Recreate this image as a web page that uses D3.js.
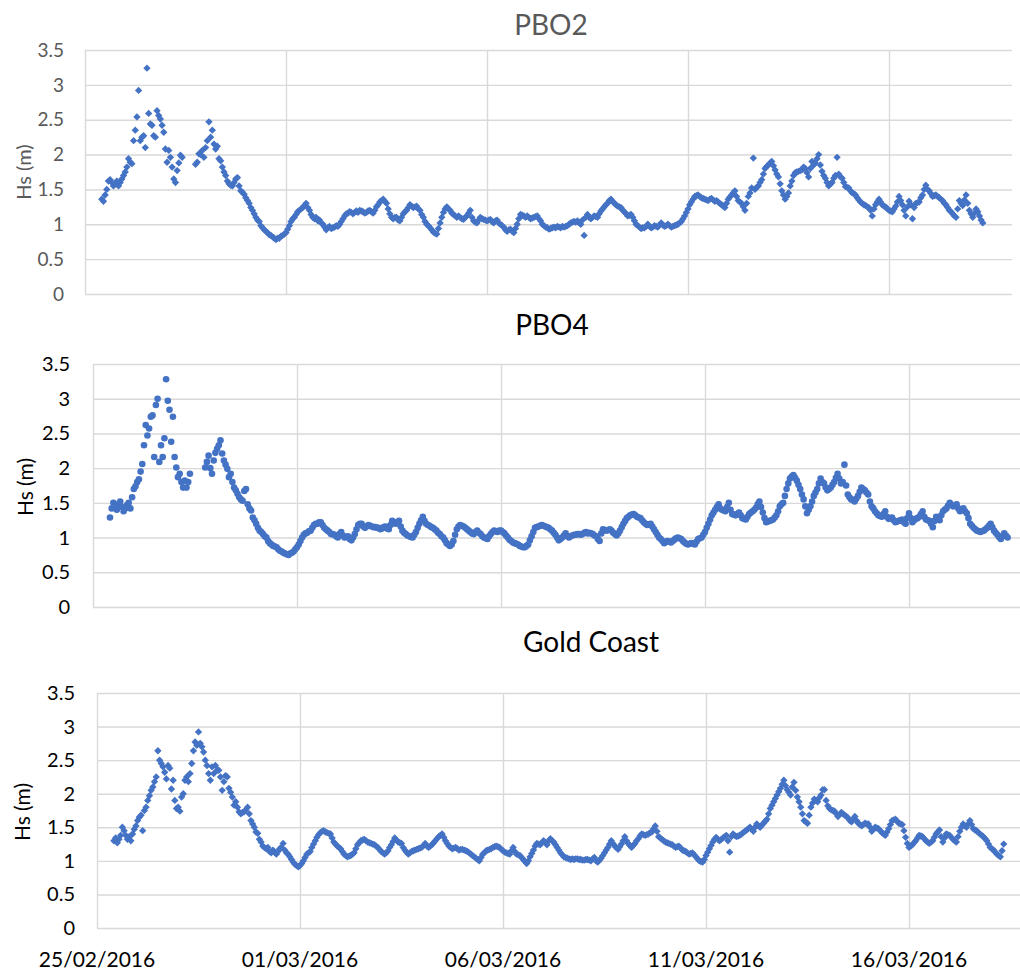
<!DOCTYPE html>
<html>
<head>
<meta charset="utf-8">
<script src="https://cdn.jsdelivr.net/npm/d3@7/dist/d3.min.js"></script>
<style>
  html, body { margin: 0; padding: 0; background: #fff; }
  svg { display: block; font-family: Lato, "Open Sans", sans-serif; }
</style>
</head>
<body>
<svg id="chart" width="1020" height="971"></svg>
<script>
// ---- DATA (significant wave height, m; hourly from 25/02/2016 10:00; null = missing) ----
const startTime = "2016-02-25T10:00:00Z";
const stepHours = 1;
const yTicks = [0, 0.5, 1, 1.5, 2, 2.5, 3, 3.5];
const yTickLabels = ["0", "0.5", "1", "1.5", "2", "2.5", "3", "3.5"];
const xTickDates = ["2016-02-25", "2016-03-01", "2016-03-06", "2016-03-11", "2016-03-16"];
const xTickLabels = ["25/02/2016", "01/03/2016", "06/03/2016", "11/03/2016", "16/03/2016"];
const titles = ["PBO2", "PBO4", "Gold Coast"];
const yLabel = "Hs (m)";

const pbo2 = [
  1.36, 1.33, 1.42, 1.5, 1.62, 1.64, 1.6, 1.55, 1.58, 1.62, 1.55, 1.6, 1.65, 1.7,
  1.75, 1.82, 1.94, 1.89, 1.87, 2.2, 2.35, 2.54, 2.92, 2.2, 2.25, 2.27, 2.1, 3.24, 2.59, 2.44, 2.42, 2.27, 2.25, 2.63, 2.56, 2.51, 2.42, 2.32,
  2.08, 1.89, 2.06, 1.96, 1.82, 1.65, 1.6, 1.77, 1.88, 1.99, 1.96, null, null, null, null, null, null, null, 1.86, 1.89, 2.01, 2.0, 2.06, 1.96,
  2.1, 2.2, 2.47, 2.25, 2.35, 2.15, 2.08, 2.12, 1.94, 1.91, 1.82, 1.75, 1.7, 1.62, 1.58, 1.56, 1.55, 1.6, 1.65, 1.67, 1.55, 1.48, 1.46, 1.43,
  1.38, 1.34, 1.3, 1.24, 1.2, 1.15, 1.1, 1.06, 1.04, 0.98, 0.95, 0.92, 0.9, 0.88, 0.85, 0.84, 0.82, 0.8, 0.78, 0.8, 0.8, 0.83, 0.84, 0.86,
  0.88, 0.93, 0.98, 1.04, 1.08, 1.1, 1.14, 1.18, 1.2, 1.22, 1.24, 1.27, 1.3, 1.24, 1.2, 1.14, 1.1, 1.08, 1.1, 1.05, 1.06, 1.02, 1.0, 0.96,
  0.92, 0.95, 0.97, 0.94, 0.95, 0.96, 0.98, 0.97, 1.0, 1.04, 1.08, 1.12, 1.15, 1.16, 1.18, 1.17, 1.15, 1.17, 1.19, 1.17, 1.2, 1.19, 1.18, 1.16,
  1.17, 1.19, 1.2, 1.18, 1.16, 1.2, 1.25, 1.28, 1.32, 1.34, 1.36, 1.33, 1.3, 1.22, 1.15, 1.1, 1.08, 1.1, 1.1, 1.06, 1.05, 1.1, 1.15, 1.18,
  1.2, 1.24, 1.28, 1.26, 1.24, 1.25, 1.26, 1.22, 1.2, 1.14, 1.1, 1.04, 1.0, 0.98, 0.95, 0.92, 0.89, 0.87, 0.86, 0.94, 1.02, 1.1, 1.17, 1.22,
  1.25, 1.22, 1.2, 1.16, 1.14, 1.12, 1.1, 1.12, 1.1, 1.08, 1.07, 1.1, 1.12, 1.16, 1.2, 1.1, 1.05, 1.03, 1.02, 1.06, 1.1, 1.08, 1.07, 1.06,
  1.05, 1.06, 1.07, 1.04, 1.02, 1.05, 1.06, 1.02, 1.0, 0.98, 0.96, 0.92, 0.9, 0.92, 0.93, 0.9, 0.88, 0.94, 1.0, 1.08, 1.14, 1.13, 1.12, 1.1,
  1.12, 1.1, 1.08, 1.09, 1.1, 1.11, 1.12, 1.08, 1.05, 1.0, 0.98, 0.96, 0.95, 0.93, 0.94, 0.95, 0.96, 0.95, 0.97, 0.96, 0.95, 0.97, 0.96, 0.97,
  0.98, 1.0, 1.02, 1.03, 1.04, 1.03, 1.05, 1.02, 1.0, 1.06, 0.84, 1.1, 1.14, 1.1, 1.08, 1.1, 1.12, 1.11, 1.1, 1.15, 1.19, 1.22, 1.25, 1.28,
  1.3, 1.34, 1.36, 1.33, 1.3, 1.28, 1.26, 1.25, 1.24, 1.2, 1.18, 1.15, 1.12, 1.13, 1.14, 1.1, 1.05, 1.0, 0.98, 0.96, 0.94, 0.95, 0.95, 0.97,
  1.0, 0.97, 0.95, 0.96, 0.98, 0.97, 0.96, 0.99, 1.02, 0.99, 0.97, 0.98, 1.0, 0.98, 0.96, 0.97, 0.98, 0.99, 1.0, 1.02, 1.04, 1.08, 1.12, 1.17,
  1.22, 1.28, 1.32, 1.36, 1.4, 1.41, 1.42, 1.4, 1.38, 1.37, 1.36, 1.35, 1.34, 1.36, 1.37, 1.35, 1.33, 1.34, 1.32, 1.3, 1.28, 1.26, 1.24, 1.3,
  1.36, 1.39, 1.42, 1.45, 1.48, 1.4, 1.34, 1.32, 1.3, 1.25, 1.2, 1.3, 1.4, 1.45, 1.52, 1.95, 1.5, 1.53, 1.55, 1.6, 1.64, 1.72, 1.8, 1.83,
  1.85, 1.88, 1.9, 1.84, 1.78, 1.72, 1.68, 1.58, 1.48, 1.42, 1.36, 1.4, 1.45, 1.55, 1.62, 1.7, 1.74, 1.75, 1.76, 1.77, 1.78, 1.82, 1.8, 1.74,
  1.68, 1.8, 1.9, 1.85, 1.88, 1.94, 2.0, 1.85, 1.76, 1.7, 1.66, 1.6, 1.55, 1.58, 1.6, 1.66, 1.7, 1.96, 1.72, 1.68, 1.66, 1.6, 1.54, 1.53,
  1.52, 1.48, 1.45, 1.44, 1.42, 1.38, 1.35, 1.32, 1.3, 1.28, 1.27, 1.25, 1.24, 1.2, 1.12, 1.22, 1.28, 1.32, 1.36, 1.32, 1.28, 1.26, 1.25, 1.22,
  1.2, 1.19, 1.18, 1.22, 1.26, 1.32, 1.4, 1.34, 1.28, 1.2, 1.12, 1.25, 1.33, 1.28, 1.08, 1.24, 1.3, 1.31, 1.32, 1.38, 1.42, 1.5, 1.56, 1.5,
  1.48, 1.44, 1.4, 1.41, 1.42, 1.4, 1.38, 1.36, 1.34, 1.3, 1.28, 1.24, 1.2, 1.18, 1.15, 1.12, 1.1, 1.22, 1.34, 1.3, 1.27, 1.35, 1.42, 1.3,
  1.2, 1.15, 1.1, 1.16, 1.22, 1.18, 1.12, 1.06, 1.02
];

const pbo4 = [
  1.29, 1.42, 1.5, 1.45, 1.4, 1.48, 1.52, 1.44, 1.38, 1.42, 1.47, 1.5, 1.42, 1.58,
  1.7, 1.74, 1.8, 1.84, 1.95, 2.06, 2.33, 2.62, 2.47, 2.57, 2.74, 2.76, 2.16, 2.91, 3.0, 2.09, 2.33, 2.16, 2.43, 3.28, 2.97, 2.84, 2.38, 2.74,
  2.16, 2.01, 1.87, 1.92, 1.8, 1.72, 1.82, 1.72, 1.8, 1.92, null, null, null, null, null, null, null, null, 2.01, 2.09, 2.18, 2.0, 1.92, 2.11,
  2.22, 2.28, 2.33, 2.4, 2.21, 2.11, 2.05, 1.99, 1.87, 1.92, 1.8, 1.72, 1.68, 1.63, 1.58, 1.55, 1.53, 1.67, 1.7, 1.48, 1.42, 1.39, 1.29, 1.25,
  1.2, 1.14, 1.1, 1.08, 1.05, 1.02, 1.0, 0.95, 0.92, 0.9, 0.88, 0.87, 0.86, 0.83, 0.81, 0.8, 0.78, 0.77, 0.76, 0.75, 0.77, 0.78, 0.8, 0.83,
  0.86, 0.9, 0.95, 1.0, 1.04, 1.06, 1.07, 1.09, 1.1, 1.14, 1.18, 1.2, 1.2, 1.22, 1.22, 1.18, 1.14, 1.12, 1.1, 1.08, 1.05, 1.05, 1.04, 1.02,
  1.0, 1.05, 1.08, 1.03, 1.0, 1.01, 1.02, 0.98, 0.96, 1.0, 1.05, 1.12, 1.18, 1.2, 1.2, 1.16, 1.14, 1.16, 1.18, 1.17, 1.16, 1.15, 1.15, 1.14,
  1.14, 1.12, 1.13, 1.15, 1.16, 1.13, 1.12, 1.18, 1.24, 1.22, 1.2, 1.22, 1.24, 1.16, 1.1, 1.07, 1.05, 1.03, 1.02, 1.01, 1.0, 1.04, 1.08, 1.14,
  1.2, 1.25, 1.3, 1.24, 1.2, 1.18, 1.17, 1.15, 1.14, 1.12, 1.1, 1.07, 1.05, 1.02, 1.0, 0.96, 0.92, 0.9, 0.88, 0.9, 0.95, 1.04, 1.12, 1.16,
  1.18, 1.17, 1.16, 1.14, 1.12, 1.1, 1.08, 1.06, 1.05, 1.08, 1.1, 1.07, 1.05, 1.02, 1.0, 0.99, 0.98, 1.02, 1.05, 1.08, 1.1, 1.09, 1.08, 1.1,
  1.1, 1.08, 1.06, 1.03, 1.0, 0.97, 0.95, 0.93, 0.92, 0.91, 0.9, 0.88, 0.87, 0.86, 0.86, 0.88, 0.9, 0.96, 1.02, 1.08, 1.14, 1.15, 1.16, 1.17,
  1.18, 1.17, 1.16, 1.15, 1.14, 1.12, 1.1, 1.07, 1.04, 1.0, 0.96, 0.98, 1.0, 1.03, 1.06, 1.02, 1.0, 1.02, 1.03, 1.04, 1.04, 1.05, 1.05, 1.04,
  1.05, 1.07, 1.08, 1.06, 1.07, 1.06, 1.05, 1.03, 1.02, 0.98, 0.95, 1.06, 1.12, 1.11, 1.1, 1.11, 1.12, 1.1, 1.07, 1.05, 1.03, 1.06, 1.1, 1.15,
  1.2, 1.24, 1.28, 1.3, 1.32, 1.33, 1.34, 1.32, 1.3, 1.29, 1.28, 1.25, 1.22, 1.2, 1.18, 1.19, 1.2, 1.16, 1.12, 1.08, 1.04, 1.0, 0.98, 0.95,
  0.92, 0.94, 0.95, 0.94, 0.93, 0.95, 0.97, 0.99, 1.0, 0.99, 0.98, 0.95, 0.93, 0.91, 0.9, 0.91, 0.92, 0.91, 0.9, 0.94, 0.98, 0.99, 1.0, 1.04,
  1.08, 1.14, 1.2, 1.26, 1.32, 1.36, 1.4, 1.44, 1.48, 1.42, 1.4, 1.39, 1.38, 1.44, 1.5, 1.4, 1.34, 1.33, 1.32, 1.34, 1.36, 1.32, 1.28, 1.27,
  1.26, 1.3, 1.34, 1.36, 1.38, 1.4, 1.43, 1.48, 1.52, 1.44, 1.36, 1.28, 1.22, 1.23, 1.24, 1.25, 1.26, 1.29, 1.32, 1.38, 1.45, 1.48, 1.5, 1.6,
  1.7, 1.78, 1.85, 1.88, 1.9, 1.86, 1.82, 1.76, 1.7, 1.62, 1.55, 1.45, 1.35, 1.4, 1.45, 1.52, 1.6, 1.65, 1.7, 1.78, 1.85, 1.8, 1.78, 1.72,
  1.68, 1.7, 1.72, 1.76, 1.8, 1.86, 1.92, 1.85, 1.78, 1.8, 2.05, 1.75, 1.62, 1.58, 1.55, 1.54, 1.52, 1.56, 1.6, 1.66, 1.72, 1.7, 1.68, 1.65,
  1.62, 1.52, 1.45, 1.42, 1.38, 1.35, 1.32, 1.31, 1.3, 1.34, 1.38, 1.3, 1.27, 1.28, 1.29, 1.25, 1.22, 1.23, 1.24, 1.25, 1.26, 1.22, 1.2, 1.28,
  1.35, 1.28, 1.22, 1.25, 1.27, 1.28, 1.3, 1.34, 1.38, 1.3, 1.26, 1.25, 1.24, 1.2, 1.15, 1.24, 1.3, 1.28, 1.25, 1.32, 1.38, 1.4, 1.42, 1.46,
  1.5, 1.47, 1.45, 1.46, 1.48, 1.42, 1.38, 1.4, 1.42, 1.38, 1.35, 1.28, 1.2, 1.17, 1.14, 1.12, 1.1, 1.09, 1.08, 1.09, 1.1, 1.12, 1.14, 1.17,
  1.2, 1.15, 1.1, 1.07, 1.04, 1.01, 0.98, 1.02, 1.06, 1.03, 1.0
];

const goldCoast = [
  1.3, 1.34, 1.27, 1.32, 1.38, 1.5, 1.45, 1.38, 1.32, 1.36, 1.3, 1.4, 1.47, 1.52,
  1.6, 1.65, 1.68, 1.45, 1.75, 1.8, 1.9, 1.97, 2.05, 2.1, 2.18, 2.25, 2.64, 2.5, 2.45, 2.4, 2.32, 2.22, 2.42, 2.38, 2.07, 2.2, 1.9, 1.78,
  1.8, 1.74, 1.95, 2.0, 2.2, 2.25, 2.18, 2.3, 2.45, 2.64, 2.77, 2.72, 2.92, 2.75, 2.7, 2.62, 2.5, 2.42, 2.3, 2.2, 2.4, 2.3, 2.42, 2.35,
  2.35, 2.25, 2.05, 2.18, 2.27, 2.25, 2.08, 2.02, 1.95, 1.83, 1.88, 1.8, 1.73, 1.7, 1.72, 1.73, 1.76, 1.8, 1.7, 1.6, 1.55, 1.5, 1.43, 1.41,
  1.32, 1.28, 1.22, 1.2, 1.18, 1.2, 1.14, 1.12, 1.16, 1.13, 1.1, 1.14, 1.18, 1.2, 1.26, 1.16, 1.12, 1.1, 1.06, 1.02, 0.98, 0.95, 0.93, 0.91,
  0.93, 0.96, 1.0, 1.05, 1.1, 1.12, 1.14, 1.2, 1.25, 1.3, 1.35, 1.39, 1.42, 1.44, 1.45, 1.43, 1.42, 1.41, 1.4, 1.34, 1.28, 1.25, 1.22, 1.2,
  1.18, 1.14, 1.1, 1.08, 1.06, 1.07, 1.08, 1.1, 1.12, 1.18, 1.24, 1.27, 1.3, 1.31, 1.32, 1.3, 1.28, 1.27, 1.26, 1.25, 1.24, 1.22, 1.2, 1.17,
  1.14, 1.12, 1.1, 1.12, 1.15, 1.2, 1.24, 1.29, 1.34, 1.31, 1.28, 1.27, 1.26, 1.2, 1.16, 1.13, 1.1, 1.12, 1.14, 1.15, 1.16, 1.17, 1.18, 1.19,
  1.2, 1.23, 1.26, 1.22, 1.2, 1.22, 1.24, 1.27, 1.3, 1.33, 1.36, 1.38, 1.4, 1.35, 1.3, 1.26, 1.22, 1.2, 1.18, 1.19, 1.2, 1.18, 1.16, 1.17,
  1.17, 1.16, 1.15, 1.14, 1.12, 1.1, 1.08, 1.06, 1.04, 1.02, 1.0, 1.05, 1.1, 1.12, 1.15, 1.16, 1.17, 1.18, 1.2, 1.21, 1.22, 1.21, 1.2, 1.17,
  1.15, 1.13, 1.12, 1.11, 1.1, 1.15, 1.2, 1.14, 1.1, 1.09, 1.08, 1.05, 1.02, 0.99, 0.96, 1.0, 1.06, 1.11, 1.16, 1.22, 1.26, 1.25, 1.24, 1.27,
  1.3, 1.27, 1.24, 1.3, 1.33, 1.3, 1.28, 1.24, 1.2, 1.16, 1.12, 1.09, 1.06, 1.05, 1.04, 1.03, 1.02, 1.03, 1.02, 1.03, 1.03, 1.02, 1.02, 1.01,
  1.01, 1.02, 1.02, 1.01, 1.0, 1.03, 1.05, 1.0, 0.98, 1.01, 1.04, 1.08, 1.12, 1.16, 1.2, 1.25, 1.3, 1.26, 1.22, 1.2, 1.17, 1.21, 1.25, 1.3,
  1.36, 1.3, 1.26, 1.23, 1.2, 1.23, 1.26, 1.3, 1.33, 1.37, 1.4, 1.39, 1.38, 1.39, 1.4, 1.42, 1.43, 1.48, 1.52, 1.44, 1.36, 1.34, 1.32, 1.3,
  1.28, 1.27, 1.26, 1.25, 1.24, 1.22, 1.2, 1.21, 1.22, 1.19, 1.16, 1.15, 1.14, 1.12, 1.1, 1.11, 1.12, 1.09, 1.06, 1.03, 1.0, 0.99, 0.98, 1.02,
  1.08, 1.13, 1.18, 1.23, 1.28, 1.32, 1.35, 1.32, 1.3, 1.32, 1.34, 1.36, 1.38, 1.3, 1.13, 1.36, 1.4, 1.38, 1.36, 1.37, 1.38, 1.4, 1.42, 1.44,
  1.46, 1.48, 1.5, 1.47, 1.44, 1.5, 1.55, 1.52, 1.5, 1.53, 1.56, 1.59, 1.62, 1.7, 1.78, 1.83, 1.88, 1.93, 1.98, 2.03, 2.08, 2.14, 2.2, 2.12,
  2.06, 2.02, 1.98, 2.1, 2.17, 2.05, 1.95, 1.88, 1.8, 1.7, 1.6, 1.58, 1.56, 1.68, 1.8, 1.86, 1.92, 1.9, 1.88, 1.94, 1.98, 2.06, 2.06, 1.9,
  1.82, 1.78, 1.76, 1.75, 1.74, 1.7, 1.66, 1.69, 1.72, 1.7, 1.68, 1.66, 1.64, 1.6, 1.58, 1.62, 1.66, 1.6, 1.56, 1.54, 1.52, 1.54, 1.56, 1.55,
  1.55, 1.5, 1.44, 1.47, 1.5, 1.49, 1.48, 1.45, 1.42, 1.4, 1.38, 1.43, 1.48, 1.54, 1.6, 1.61, 1.62, 1.59, 1.56, 1.55, 1.54, 1.45, 1.35, 1.26,
  1.2, 1.22, 1.24, 1.27, 1.3, 1.34, 1.38, 1.37, 1.36, 1.33, 1.3, 1.28, 1.26, 1.28, 1.3, 1.35, 1.4, 1.43, 1.46, 1.36, 1.28, 1.34, 1.4, 1.39,
  1.38, 1.35, 1.32, 1.3, 1.28, 1.36, 1.44, 1.5, 1.55, 1.52, 1.5, 1.55, 1.6, 1.54, 1.48, 1.46, 1.45, 1.42, 1.4, 1.38, 1.36, 1.33, 1.3, 1.25,
  1.2, 1.18, 1.16, 1.13, 1.1, 1.08, 1.06, 1.15, 1.25
];

// ---- LAYOUT ----
const DAY = 86400000;
const t0 = Date.parse("2016-02-25T00:00:00Z");
const tStart = Date.parse(startTime);
const svg = d3.select("#chart");
const blue = "#4472C4";

const panels = [
  { data: pbo2, title: titles[0], marker: "diamond", left: 85, right: 1012, pxPerDay: 40.2,
    top: 50, bottom: 294, textColor: "#595959", titleX: 551, titleY: 35, tickX: 64, tickSize: 19,
    labX: 24, labY: 172, labSize: 20, xLabels: false },
  { data: pbo4, title: titles[1], marker: "circle", left: 93, right: 1020, pxPerDay: 40.8,
    top: 364, bottom: 607, textColor: "#000000", titleX: 552, titleY: 335, tickX: 70, tickSize: 20,
    labX: 26, labY: 487, labSize: 21, xLabels: false },
  { data: goldCoast, title: titles[2], marker: "diamond", left: 97, right: 1020, pxPerDay: 40.6,
    top: 693, bottom: 928, textColor: "#000000", titleX: 591, titleY: 652, tickX: 75, tickSize: 20,
    labX: 23, labY: 812, labSize: 21, xLabels: true }
];

panels.forEach(p => {
  const endDays = (p.right - p.left) / p.pxPerDay;
  const x = d3.scaleUtc()
    .domain([new Date(t0), new Date(t0 + endDays * DAY)])
    .range([p.left, p.right]);
  const y = d3.scaleLinear().domain([0, 3.5]).range([p.bottom, p.top]);
  const g = svg.append("g");

  // horizontal gridlines
  g.append("g")
    .attr("transform", `translate(${p.left},0)`)
    .call(d3.axisLeft(y).tickValues(yTicks).tickSize(-(p.right - p.left)).tickFormat(""))
    .call(s => s.select(".domain").remove())
    .call(s => s.selectAll(".tick line").attr("stroke", "#d9d9d9").attr("stroke-width", 1.4));

  // vertical gridlines
  const xDates = xTickDates.map(d => new Date(d + "T00:00:00Z"));
  g.append("g")
    .attr("transform", `translate(0,${p.bottom})`)
    .call(d3.axisBottom(x).tickValues(xDates).tickSize(-(p.bottom - p.top)).tickFormat(""))
    .call(s => s.select(".domain").remove())
    .call(s => s.selectAll(".tick line").attr("stroke", "#d9d9d9").attr("stroke-width", 1.4));

  // y tick labels
  g.selectAll(".ylab").data(yTicks).join("text")
    .attr("x", p.tickX).attr("y", d => y(d))
    .attr("dy", "0.35em").attr("text-anchor", "end")
    .attr("font-size", p.tickSize).attr("fill", p.textColor)
    .text((d, i) => yTickLabels[i]);

  // axis title
  g.append("text")
    .attr("transform", `translate(${p.labX},${p.labY}) rotate(-90)`)
    .attr("text-anchor", "middle").attr("dy", "0.35em")
    .attr("font-size", p.labSize).attr("fill", p.textColor)
    .text(yLabel);

  // panel title
  g.append("text")
    .attr("x", p.titleX).attr("y", p.titleY)
    .attr("text-anchor", "middle")
    .attr("font-size", 28).attr("fill", p.textColor)
    .text(p.title);

  if (p.xLabels) {
    g.selectAll(".xlab").data(xDates).join("text")
      .attr("x", d => x(d)).attr("y", 967)
      .attr("text-anchor", "middle")
      .attr("font-size", 21).attr("fill", "#000")
      .text((d, i) => xTickLabels[i]);
  }

  const pts = p.data
    .map((v, i) => ({ t: new Date(tStart + i * stepHours * 3600000), v }))
    .filter(d => d.v !== null);

  if (p.marker === "circle") {
    g.selectAll(".pt").data(pts).join("circle")
      .attr("cx", d => x(d.t)).attr("cy", d => y(d.v))
      .attr("r", 3.3).attr("fill", blue);
  } else {
    const sym = d3.symbol().type(d3.symbolSquare).size(27);
    g.selectAll(".pt").data(pts).join("path")
      .attr("d", sym)
      .attr("transform", d => `translate(${x(d.t)},${y(d.v)}) rotate(45)`)
      .attr("fill", blue);
  }
});
</script>
</body>
</html>
